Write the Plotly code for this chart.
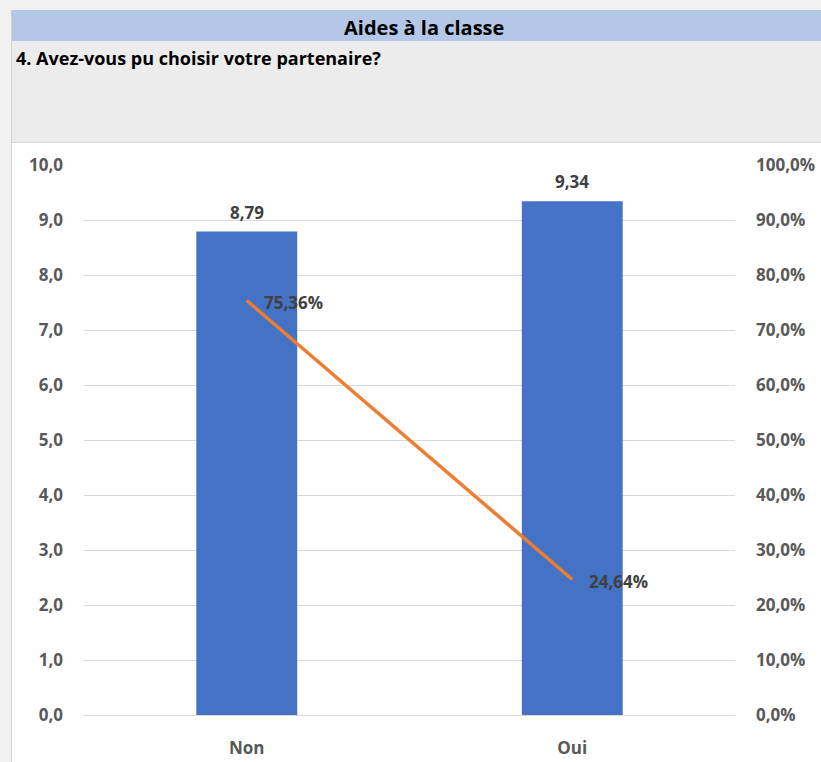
import plotly.graph_objects as go

# data
categories = ["Non", "Oui"]
moyennes = [8.79, 9.34]
pourcentages = [0.7536, 0.2464]

W, H = 821, 762
FONT = "Open Sans"
TXT = "#404040"
TICK = "#595959"


def px_x(v):
    return v / W


def px_y(v):
    return 1 - v / H


def fr(v, pct=False):
    # french style number with a comma
    s = f"{v*100:.2f}%" if pct else f"{v:.2f}"
    return s.replace(".", ",")


fig = go.Figure()

fig.add_trace(go.Bar(
    x=categories, y=moyennes, width=0.31,
    marker=dict(color="#4472c4", line=dict(width=0)),
    yaxis="y",
))

fig.add_trace(go.Scatter(
    x=categories, y=pourcentages, mode="lines",
    line=dict(color="#ed7d31", width=3.5), yaxis="y2",
))

# bar value labels
for c, v in zip(categories, moyennes):
    fig.add_annotation(
        x=c, y=v, xref="x", yref="y", text=f"<b>{fr(v)}</b>",
        showarrow=False, xanchor="center", yanchor="bottom", yshift=6,
        font=dict(family=FONT, size=17, color=TXT),
    )

# line labels
for c, p in zip(categories, pourcentages):
    fig.add_annotation(
        x=c, y=p, xref="x", yref="y2", text=f"<b>{fr(p, True)}</b>",
        showarrow=False, xanchor="left", yanchor="middle", xshift=15, yshift=-2,
        font=dict(family=FONT, size=17, color=TXT),
    )

shapes = [
    # gray panel behind the question
    dict(type="rect", xref="paper", yref="paper", x0=px_x(11), x1=1, y0=px_y(143), y1=px_y(41),
         fillcolor="#ececec", line=dict(width=0), layer="below"),
    # white chart area
    dict(type="rect", xref="paper", yref="paper", x0=px_x(12), x1=1, y0=0, y1=px_y(143),
         fillcolor="white", line=dict(width=0), layer="below"),
    dict(type="line", xref="paper", yref="paper", x0=px_x(12), x1=1, y0=px_y(142.5), y1=px_y(142.5),
         line=dict(color="#d6d6d6", width=1), layer="below"),
    # header band
    dict(type="rect", xref="paper", yref="paper", x0=px_x(12), x1=1, y0=px_y(41), y1=px_y(10),
         fillcolor="#b4c7e7", line=dict(width=0), layer="below"),
    # left border
    dict(type="line", xref="paper", yref="paper", x0=px_x(11.5), x1=px_x(11.5), y0=0, y1=px_y(10),
         line=dict(color="#d0d0d0", width=1), layer="below"),
]

fig.update_layout(
    width=W, height=H,
    margin=dict(l=0, r=0, t=0, b=0, autoexpand=False),
    paper_bgcolor="#f2f2f2", plot_bgcolor="rgba(0,0,0,0)",
    separators=", ",
    showlegend=False,
    shapes=shapes,
    font=dict(family=FONT, color=TICK),
    xaxis=dict(
        domain=[px_x(84), px_x(735)],
        showgrid=False, showline=True, linecolor="#d9d9d9", linewidth=1,
        ticks="", tickfont=dict(family=FONT, size=17, color=TICK, weight="bold"),
        ticklabelstandoff=18,
    ),
    yaxis=dict(
        domain=[px_y(715), px_y(165)],
        range=[0, 10], dtick=1, tickformat=".1f",
        showgrid=True, gridcolor="#d9d9d9", gridwidth=1, zeroline=False,
        tickfont=dict(family=FONT, size=17, color=TICK, weight="bold"),
        ticklabelstandoff=20,
    ),
    yaxis2=dict(
        overlaying="y", side="right", anchor="x",
        range=[0, 1], dtick=0.1, tickformat=".1%",
        showgrid=False, zeroline=False,
        tickfont=dict(family=FONT, size=17, color=TICK, weight="bold"),
        ticklabelstandoff=20,
    ),
    annotations=list(fig.layout.annotations) + [
        dict(text="<b>Aides à la classe</b>", xref="paper", yref="paper", x=px_x(424), y=px_y(27),
             xanchor="center", yanchor="middle", showarrow=False,
             font=dict(family=FONT, size=20, color="#000000")),
        dict(text="<b>4. Avez-vous pu choisir votre partenaire?</b>", xref="paper", yref="paper",
             x=px_x(14), y=px_y(58), xanchor="left", yanchor="middle", showarrow=False,
             font=dict(family=FONT, size=18, color="#000000")),
    ],
)

# drop the default page margin so the figure sits at the window corner
fig.write_html("out.html", config={"displayModeBar": False},
               post_script="document.body.style.margin='0';")
